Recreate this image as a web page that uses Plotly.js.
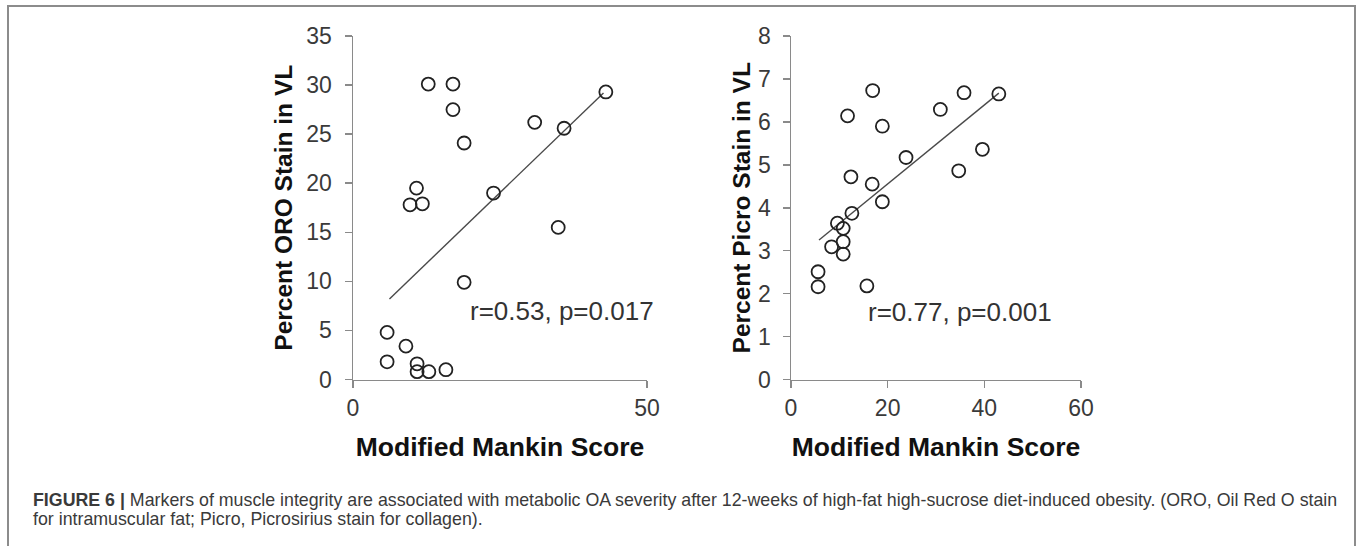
<!DOCTYPE html>
<html>
<head>
<meta charset="utf-8">
<script src="https://cdn.plot.ly/plotly-3.0.1.min.js"></script>
<style>html,body{margin:0;padding:0;background:#fff;}#chart{width:1357px;height:546px;}</style>
</head>
<body>
<div id="chart"></div>
<script>
// Left panel: Modified Mankin Score vs Percent ORO Stain in VL
const oroScore = [12.8, 17.0, 17.0, 18.9, 30.9, 35.9, 43.0, 10.8, 9.7, 11.8, 23.9, 34.9, 18.9, 5.8, 9.0, 5.8, 10.9, 10.9, 12.9, 15.8];
const oroStain = [30.1, 30.1, 27.5, 24.1, 26.2, 25.6, 29.3, 19.5, 17.8, 17.9, 19.0, 15.5, 9.9, 4.8, 3.4, 1.8, 1.6, 0.8, 0.8, 1.0];
const oroTrendX = [6.2, 42.6];
const oroTrendY = [8.2, 29.2];
const oroStat = "r=0.53, p=0.017";

// Right panel: Modified Mankin Score vs Percent Picro Stain in VL
const picroScore = [16.9, 35.8, 43.0, 30.9, 11.7, 18.9, 39.6, 23.8, 34.7, 12.4, 16.8, 18.9, 12.6, 9.6, 10.8, 8.4, 10.8, 10.8, 5.6, 5.6, 15.7];
const picroStain = [6.73, 6.68, 6.65, 6.29, 6.14, 5.90, 5.36, 5.17, 4.86, 4.72, 4.55, 4.14, 3.87, 3.64, 3.52, 3.09, 3.21, 2.92, 2.51, 2.16, 2.18];
const picroTrendX = [5.8, 43.0];
const picroTrendY = [3.25, 6.67];
const picroStat = "r=0.77, p=0.001";

const xTitle = "Modified Mankin Score";
const oroTitle = "Percent ORO Stain in VL";
const picroTitle = "Percent Picro Stain in VL";
const captionLine1 = "<b>FIGURE 6 |</b> Markers of muscle integrity are associated with metabolic OA severity after 12-weeks of high-fat high-sucrose diet-induced obesity. (ORO, Oil Red O stain";
const captionLine2 = "for intramuscular fat; Picro, Picrosirius stain for collagen).";

const W = 1357, H = 546;
const FONT = "Liberation Sans, Arial, sans-serif";
const axisGray = "#8a8a8a";
const tickFont = {family: FONT, size: 23, color: "#3a3a3a"};
const xTitleFont = {family: FONT, size: 26.5, color: "#111", weight: "bold"};
const yTitleFont = {family: FONT, size: 24.5, color: "#111", weight: "bold"};
const statFont = {family: FONT, size: 26, color: "#333"};
const captionFont = {family: FONT, size: 17.8, color: "#3a3a3a"};

const marker = {symbol: "circle-open", size: 13, color: "#222", line: {width: 1.8, color: "#222"}};
const trendLine = {color: "#4a4a4a", width: 1.4};

const traces = [
  {x: oroTrendX, y: oroTrendY, mode: "lines", line: trendLine, xaxis: "x", yaxis: "y", hoverinfo: "skip"},
  {x: oroScore, y: oroStain, mode: "markers", marker: marker, xaxis: "x", yaxis: "y"},
  {x: picroTrendX, y: picroTrendY, mode: "lines", line: trendLine, xaxis: "x2", yaxis: "y2", hoverinfo: "skip"},
  {x: picroScore, y: picroStain, mode: "markers", marker: marker, xaxis: "x2", yaxis: "y2"}
];

function px(v) { return v / W; }
function py(v) { return 1 - v / H; }

const baseAxis = {
  showgrid: false, zeroline: false, showline: true, linecolor: axisGray, linewidth: 1.5,
  ticks: "outside", ticklen: 7, tickwidth: 1.5, tickcolor: axisGray,
  tickfont: tickFont, fixedrange: true
};

const layout = {
  width: W, height: H,
  margin: {l: 0, r: 0, t: 0, b: 0},
  paper_bgcolor: "#fff", plot_bgcolor: "#fff",
  showlegend: false,
  font: {family: FONT},
  xaxis: Object.assign({}, baseAxis, {
    domain: [px(353), px(647)], range: [0, 50], tickvals: [0, 50], anchor: "y",
    title: {text: xTitle, font: xTitleFont, standoff: 18}
  }),
  yaxis: Object.assign({}, baseAxis, {
    domain: [py(379.5), py(36)], range: [0, 35], dtick: 5, anchor: "x",
    ticklabelstandoff: 8,
    title: {text: oroTitle, font: yTitleFont, standoff: 6}
  }),
  xaxis2: Object.assign({}, baseAxis, {
    domain: [px(791), px(1081)], range: [0, 60], dtick: 20, anchor: "y2",
    title: {text: xTitle, font: xTitleFont, standoff: 18}
  }),
  yaxis2: Object.assign({}, baseAxis, {
    domain: [py(379.5), py(36)], range: [0, 8], dtick: 1, anchor: "x2",
    ticklabelstandoff: 7,
    title: {text: picroTitle, font: yTitleFont, standoff: 0}
  }),
  annotations: [
    {xref: "x", yref: "y", x: 35.5, y: 7.0, text: oroStat, showarrow: false,
     xanchor: "center", yanchor: "middle", font: statFont},
    {xref: "x2", yref: "y2", x: 35.0, y: 1.57, text: picroStat, showarrow: false,
     xanchor: "center", yanchor: "middle", font: statFont},
    {xref: "paper", yref: "paper", x: px(31), y: py(500), text: captionLine1, showarrow: false,
     xanchor: "left", yanchor: "middle", align: "left", font: captionFont},
    {xref: "paper", yref: "paper", x: px(31), y: py(519), text: captionLine2, showarrow: false,
     xanchor: "left", yanchor: "middle", align: "left", font: captionFont}
  ],
  shapes: [
    {type: "rect", xref: "paper", yref: "paper", x0: px(8), x1: px(1355), y0: -0.05, y1: py(6),
     line: {color: "#8c8c8c", width: 2}, fillcolor: "rgba(0,0,0,0)", layer: "below"}
  ]
};

Plotly.newPlot("chart", traces, layout, {displayModeBar: false, staticPlot: true});
</script>
</body>
</html>
